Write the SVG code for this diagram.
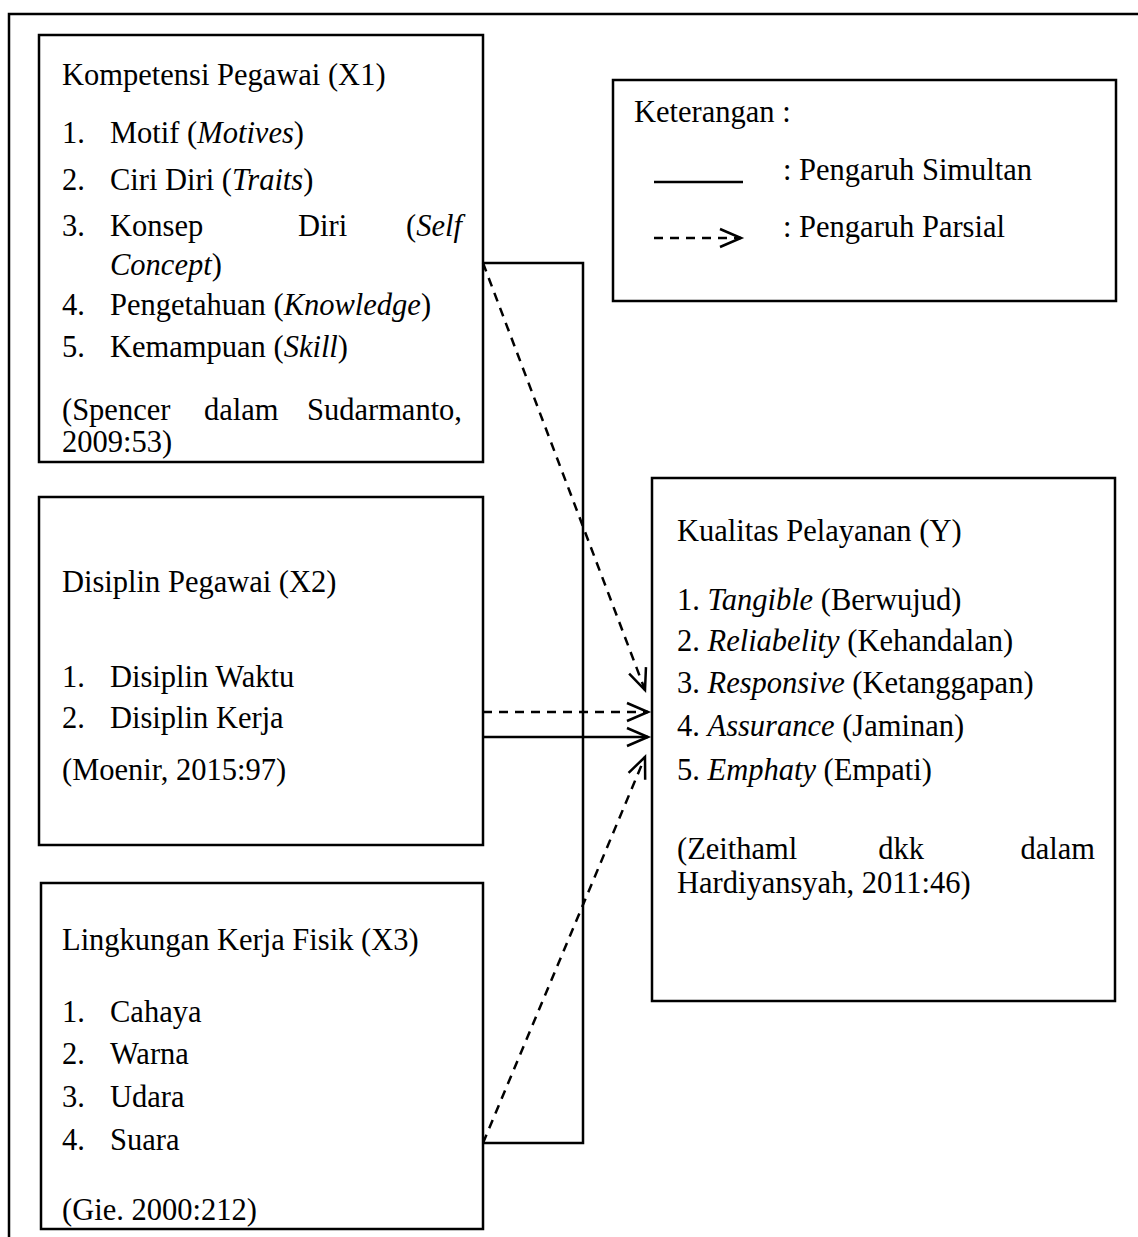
<svg xmlns="http://www.w3.org/2000/svg" width="1138" height="1237" viewBox="0 0 1138 1237">
<style>
text{font-family:"Liberation Serif","Times New Roman",serif;font-size:30.5px;fill:#000}
.i{font-style:italic}
.box{fill:#fff;stroke:#000;stroke-width:2.5}
.ln{fill:none;stroke:#000;stroke-width:2.5}
.da{fill:none;stroke:#000;stroke-width:2.5;stroke-dasharray:9 7}
</style>
<defs>
<marker id="ah" viewBox="0 0 12 12" refX="11" refY="6" markerWidth="12" markerHeight="12" markerUnits="userSpaceOnUse" orient="auto" style="overflow:visible">
<path d="M-10,-3 L11,6 L-10,15" fill="none" stroke="#000" stroke-width="2.5"/>
</marker>
<clipPath id="c3"><rect x="42" y="885" width="440" height="342"/></clipPath>
</defs>
<rect x="9" y="14" width="1200" height="1300" fill="none" stroke="#000" stroke-width="2.5"/>
<g id="x1">
<rect class="box" x="39" y="35" width="444" height="427"/>
<text x="62" y="85">Kompetensi Pegawai (X1)</text>
<text x="62" y="143">1.</text><text x="110" y="143">Motif (<tspan class="i">Motives</tspan>)</text>
<text x="62" y="190">2.</text><text x="110" y="190">Ciri Diri (<tspan class="i">Traits</tspan>)</text>
<text x="62" y="236">3.</text><text x="110" y="236">Konsep</text><text x="298" y="236">Diri</text><text x="462" y="236" text-anchor="end">(<tspan class="i">Self</tspan></text>
<text x="110" y="275"><tspan class="i">Concept</tspan>)</text>
<text x="62" y="315">4.</text><text x="110" y="315">Pengetahuan (<tspan class="i">Knowledge</tspan>)</text>
<text x="62" y="357">5.</text><text x="110" y="357">Kemampuan (<tspan class="i">Skill</tspan>)</text>
<text x="62" y="420">(Spencer</text><text x="204" y="420">dalam</text><text x="462" y="420" text-anchor="end">Sudarmanto,</text>
<text x="62" y="452">2009:53)</text>
</g>
<g id="x2">
<rect class="box" x="39" y="497" width="444" height="348"/>
<text x="62" y="592">Disiplin Pegawai (X2)</text>
<text x="62" y="687">1.</text><text x="110" y="687">Disiplin Waktu</text>
<text x="62" y="728">2.</text><text x="110" y="728">Disiplin Kerja</text>
<text x="62" y="780">(Moenir, 2015:97)</text>
</g>
<g id="x3">
<rect class="box" x="41" y="883" width="442" height="346"/>
<text x="62" y="950">Lingkungan Kerja Fisik (X3)</text>
<text x="62" y="1022">1.</text><text x="110" y="1022">Cahaya</text>
<text x="62" y="1064">2.</text><text x="110" y="1064">Warna</text>
<text x="62" y="1107">3.</text><text x="110" y="1107">Udara</text>
<text x="62" y="1150">4.</text><text x="110" y="1150">Suara</text>
<text x="62" y="1220" clip-path="url(#c3)">(Gie. 2000:212)</text>
</g>
<g id="y">
<rect class="box" x="652" y="478" width="463" height="523"/>
<text x="677" y="541">Kualitas Pelayanan (Y)</text>
<text x="677" y="610">1. <tspan class="i">Tangible</tspan> (Berwujud)</text>
<text x="677" y="651">2. <tspan class="i">Reliabelity</tspan> (Kehandalan)</text>
<text x="677" y="693">3. <tspan class="i">Responsive</tspan> (Ketanggapan)</text>
<text x="677" y="736">4. <tspan class="i">Assurance</tspan> (Jaminan)</text>
<text x="677" y="780">5. <tspan class="i">Emphaty</tspan> (Empati)</text>
<text x="677" y="859">(Zeithaml</text><text x="901" y="859" text-anchor="middle">dkk</text><text x="1095" y="859" text-anchor="end">dalam</text>
<text x="677" y="893">Hardiyansyah, 2011:46)</text>
</g>
<g id="legend">
<rect class="box" x="613" y="80" width="503" height="221"/>
<text x="634" y="122">Keterangan :</text>
<line class="ln" x1="654" y1="182" x2="743" y2="182"/>
<line class="da" x1="654" y1="238" x2="741" y2="238" marker-end="url(#ah)"/>
<text x="783" y="180">: Pengaruh Simultan</text>
<text x="783" y="237">: Pengaruh Parsial</text>
</g>
<g id="connectors">
<polyline class="ln" points="483,263 583,263 583,1143 483,1143"/>
<line class="ln" x1="483" y1="737" x2="648" y2="737" marker-end="url(#ah)"/>
<line class="da" x1="483" y1="712" x2="648" y2="712" marker-end="url(#ah)"/>
<line class="da" x1="483" y1="263" x2="645" y2="690" marker-end="url(#ah)"/>
<line class="da" x1="483" y1="1143" x2="645" y2="757" marker-end="url(#ah)"/>
</g>
</svg>
